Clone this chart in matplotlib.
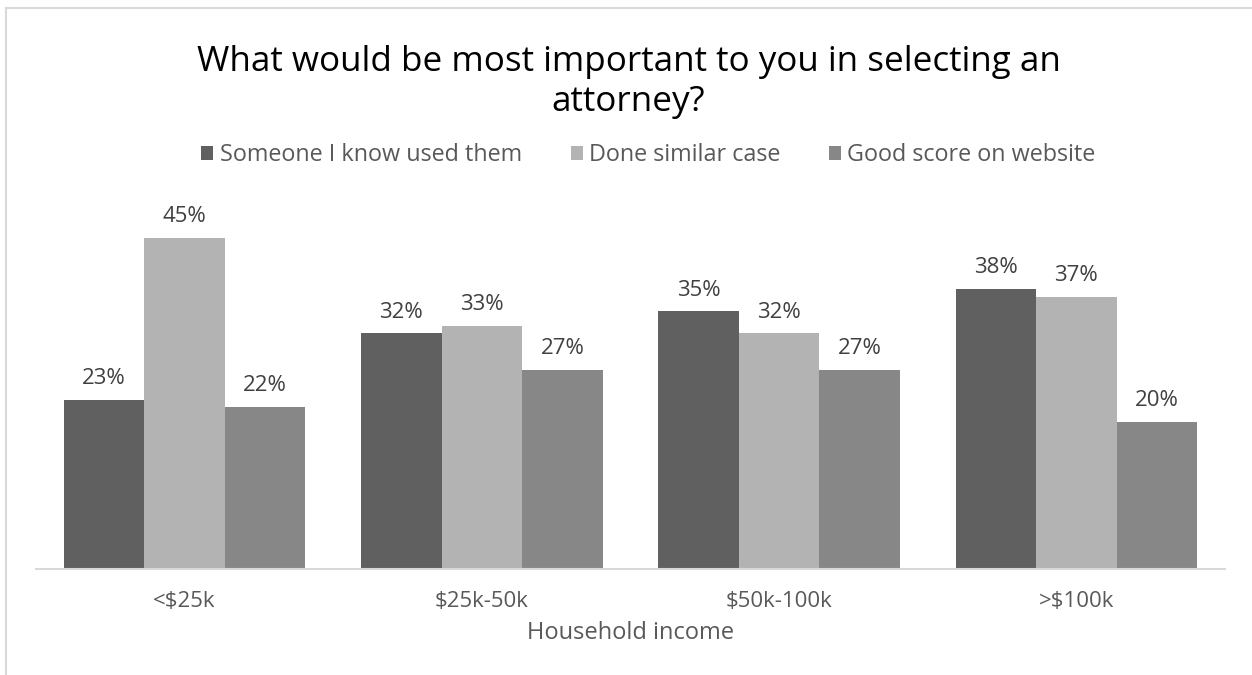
import numpy as np
import matplotlib.pyplot as plt
from matplotlib.lines import Line2D

# 데이터
categories = ['<$25k', '$25k-50k', '$50k-100k', '>$100k']
series_names = ['Someone I know used them', 'Done similar case', 'Good score on website']
someone = [23, 32, 35, 38]
similar = [45, 33, 32, 37]
score = [22, 27, 27, 20]
colors = ['#606060', '#b3b3b3', '#878787']

plt.rcParams['font.family'] = ['Open Sans', 'DejaVu Sans']

W, H = 1252, 675
fig = plt.figure(figsize=(W / 100, H / 100), dpi=100)

# 외곽선 (왼쪽, 위)
fig.add_artist(Line2D([6 / W, 6 / W], [0, 1 - 8 / H], color='#d9d9d9', lw=1.5))
fig.add_artist(Line2D([6 / W, 1], [1 - 8 / H, 1 - 8 / H], color='#d9d9d9', lw=1.5))

ax = fig.add_axes([36 / W, 1 - 569 / H, (1225 - 36) / W, 368 / H])
ax.set_ylim(0, 50)
x = np.arange(len(categories))
ax.set_xlim(-0.5, len(categories) - 0.5)
bw = 0.271
data = [someone, similar, score]
for i, vals in enumerate(data):
    pos = x + (i - 1) * bw
    bars = ax.bar(pos, vals, bw, color=colors[i], label=series_names[i])
    for xp, v in zip(pos, vals):
        ax.text(xp, v + 2.15, f'{v}%', ha='center', va='baseline', fontsize=16, color='#404040')

for s in ['top', 'right', 'left']:
    ax.spines[s].set_visible(False)
ax.spines['bottom'].set_color('#d9d9d9')
ax.spines['bottom'].set_linewidth(1.5)
ax.set_yticks([])
ax.set_xticks(x)
ax.set_xticklabels(categories, fontsize=16, color='#595959')
ax.tick_params(axis='x', length=0, pad=16)
ax.set_xlabel('Household income', fontsize=17, color='#595959', labelpad=6)

fig.text(0.502, 1 - 82 / H, 'What would be most important to you in selecting an\nattorney?',
         ha='center', va='center', fontsize=25.2, color='black', linespacing=1.2)

fig.legend(loc='center', bbox_to_anchor=(0.518, 1 - 155 / H), ncol=3, frameon=False,
           fontsize=16.8, labelcolor='#595959', handlelength=0.52, handleheight=0.52,
           handletextpad=0.26, columnspacing=2.1)

plt.savefig('out.png', dpi=100)
